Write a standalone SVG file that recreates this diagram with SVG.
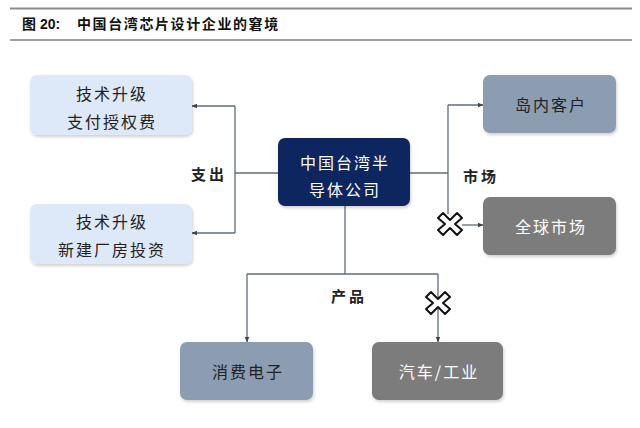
<svg xmlns="http://www.w3.org/2000/svg" width="640" height="428" viewBox="0 0 640 428">
<defs>
<marker id="arr" viewBox="0 0 10 10" refX="9" refY="5" markerWidth="6" markerHeight="6" orient="auto" markerUnits="userSpaceOnUse">
<path d="M0,1 L10,5 L0,9 z" fill="#3a4658"/>
</marker>
<filter id="sh" x="-10%" y="-10%" width="125%" height="130%">
<feDropShadow dx="1" dy="2" stdDeviation="1.5" flood-color="#000" flood-opacity="0.18"/>
</filter>
<path id="xm" d="M-7,-11 L0,-4 L7,-11 L12,-6 L5,0 L12,6 L7,11 L0,4 L-7,11 L-12,6 L-5,0 L-12,-6 z"/>
</defs>
<style>
.t{font-family:"Noto Sans CJK SC","Liberation Sans",sans-serif;font-size:16px;letter-spacing:2px;text-anchor:middle;dominant-baseline:central}
.lb{font-family:"Noto Sans CJK SC","Liberation Sans",sans-serif;font-size:15px;font-weight:bold;fill:#222;letter-spacing:3px;text-anchor:middle;dominant-baseline:central}
.ln{fill:none;stroke:#5f6b7c;stroke-width:1.3}
.lt{fill:#dde9f8;filter:url(#sh)}
.gb{fill:#8c9db1;filter:url(#sh)}
.dg{fill:#7b7b7b;filter:url(#sh)}
.xs{fill:#fff;stroke:#111;stroke-width:2;stroke-linejoin:round}
</style>
<rect width="640" height="428" fill="#fff"/>
<g id="title">
<line x1="10" y1="8.5" x2="632" y2="8.5" stroke="#8a8a8a" stroke-width="2"/>
<line x1="10" y1="40" x2="632" y2="40" stroke="#444" stroke-width="1"/>
<text x="22" y="29" font-family="'Liberation Sans','Noto Sans CJK SC',sans-serif" font-size="14" font-weight="bold" fill="#111">图 20:</text>
<text x="77" y="29" font-family="'Noto Sans CJK SC','Liberation Sans',sans-serif" font-size="14" font-weight="bold" letter-spacing="1.6" fill="#111">中国台湾芯片设计企业的窘境</text>
</g>
<g id="connectors">
<polyline class="ln" points="278,173 235,173"/>
<polyline class="ln" points="235,106 235,233"/>
<line class="ln" x1="235" y1="106" x2="192" y2="106" marker-end="url(#arr)"/>
<line class="ln" x1="235" y1="233" x2="192" y2="233" marker-end="url(#arr)"/>
<polyline class="ln" points="410,173 448,173"/>
<polyline class="ln" points="448,105 448,214"/>
<line class="ln" x1="448" y1="105" x2="483" y2="105" marker-end="url(#arr)"/>
<line class="ln" x1="462" y1="225" x2="483" y2="225" marker-end="url(#arr)"/>
<polyline class="ln" points="345,205 345,274"/>
<polyline class="ln" points="247,274 438,274"/>
<line class="ln" x1="247" y1="274" x2="247" y2="342" marker-end="url(#arr)"/>
<line class="ln" x1="438" y1="274" x2="438" y2="342" marker-end="url(#arr)"/>
<use href="#xm" class="xs" x="450" y="224"/>
<use href="#xm" class="xs" x="438" y="303"/>
<text class="lb" x="209" y="173">支出</text>
<text class="lb" x="481" y="175">市场</text>
<text class="lb" x="349" y="295">产品</text>
</g>
<g id="n_center">
<rect x="278" y="138" width="132" height="68" rx="7" fill="#0c2660" filter="url(#sh)"/>
<text class="t" x="345" y="162" fill="#fff" font-size="17" letter-spacing="1">中国台湾半</text>
<text class="t" x="345" y="189" fill="#fff" font-size="17" letter-spacing="1">导体公司</text>
</g>
<g id="n_tl">
<rect class="lt" x="30" y="75" width="162" height="60" rx="7"/>
<text class="t" x="112" y="93" fill="#222">技术升级</text>
<text class="t" x="112" y="121" fill="#222">支付授权费</text>
</g>
<g id="n_bl">
<rect class="lt" x="30" y="204" width="162" height="60" rx="7"/>
<text class="t" x="112" y="221" fill="#222">技术升级</text>
<text class="t" x="112" y="249" fill="#222" letter-spacing="1">新建厂房投资</text>
</g>
<g id="n_tr">
<rect class="gb" x="483" y="75" width="133" height="58" rx="7"/>
<text class="t" x="551" y="104" fill="#222" letter-spacing="3">岛内客户</text>
</g>
<g id="n_br">
<rect class="dg" x="483" y="197" width="133" height="58" rx="7"/>
<text class="t" x="551" y="226" fill="#fff" letter-spacing="3">全球市场</text>
</g>
<g id="n_consumer">
<rect class="gb" x="180" y="342" width="133" height="58" rx="7"/>
<text class="t" x="248" y="371" fill="#222" letter-spacing="3">消费电子</text>
</g>
<g id="n_auto">
<rect class="dg" x="372" y="342" width="131" height="58" rx="7"/>
<text class="t" x="439" y="371" fill="#fff" letter-spacing="3">汽车/工业</text>
</g>
</svg>
